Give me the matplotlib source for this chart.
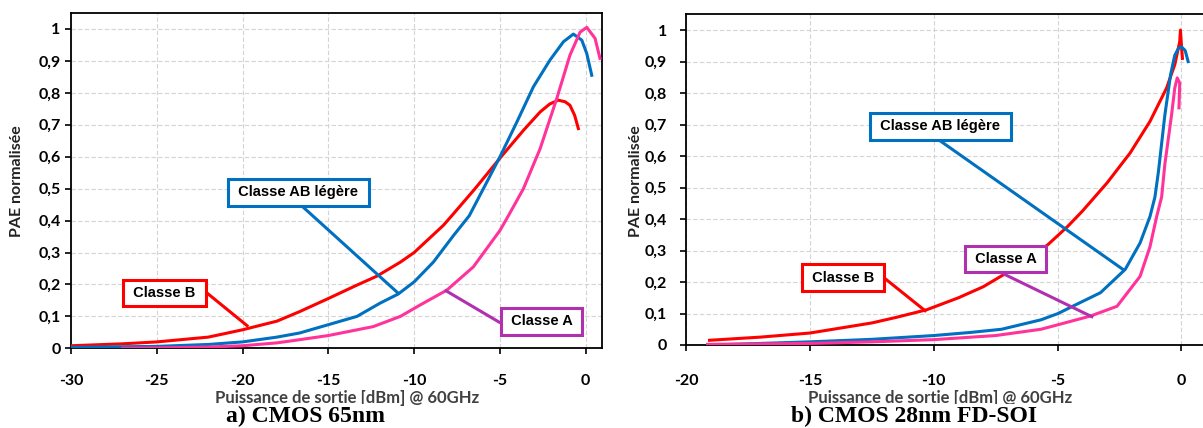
import matplotlib
matplotlib.use("Agg")
import matplotlib.pyplot as plt
from matplotlib.ticker import FuncFormatter, MultipleLocator

plt.rcParams['axes.unicode_minus'] = False

# --- a) CMOS 65nm ---
a_b_x = [-30, -27, -25, -22, -20, -18, -16.67, -15, -13.33, -12.17, -10.8, -10, -8.3, -7.81, -6.45, -4.96, -3.64, -2.66, -2.1, -1.6, -1.2, -0.92, -0.65, -0.43]
a_b_y = [0.008, 0.014, 0.02, 0.035, 0.058, 0.085, 0.115, 0.156, 0.198, 0.226, 0.27, 0.30, 0.385, 0.415, 0.50, 0.598, 0.682, 0.74, 0.765, 0.777, 0.772, 0.761, 0.73, 0.688]
a_ab_x = [-30, -25, -22, -20, -18, -16.67, -15, -13.33, -12, -10.93, -10, -8.88, -7.71, -6.79, -5.77, -4.96, -4.02, -3.05, -2.08, -1.3, -0.72, -0.23, 0.06, 0.35]
a_ab_y = [0.003, 0.006, 0.012, 0.02, 0.035, 0.048, 0.074, 0.10, 0.141, 0.17, 0.208, 0.27, 0.353, 0.415, 0.52, 0.604, 0.708, 0.819, 0.903, 0.96, 0.984, 0.965, 0.923, 0.855]
a_a_x = [-27, -24, -22, -20, -18, -16.67, -15, -12.38, -10.8, -9.64, -8.1, -6.55, -5, -4.51, -3.64, -2.66, -1.69, -0.92, -0.33, 0.06, 0.54, 0.83]
a_a_y = [0.0, 0.002, 0.004, 0.008, 0.017, 0.027, 0.04, 0.068, 0.1, 0.136, 0.182, 0.255, 0.369, 0.415, 0.499, 0.625, 0.782, 0.918, 0.99, 1.005, 0.971, 0.908]

# --- b) CMOS 28nm FD-SOI ---
b_b_x = [-19.05, -17, -15, -12.5, -11.5, -10.28, -9, -8, -7.08, -6, -5.4, -4.6, -4.0, -3.0, -2.07, -1.27, -0.6, -0.27, -0.07, -0.04, 0.0, 0.04]
b_b_y = [0.015, 0.025, 0.038, 0.07, 0.088, 0.112, 0.15, 0.185, 0.228, 0.285, 0.318, 0.376, 0.425, 0.515, 0.61, 0.71, 0.816, 0.89, 0.963, 1.0, 0.95, 0.91]
b_ab_x = [-18.2, -15, -12.5, -10, -8.5, -7.26, -5.67, -4.98, -4.34, -3.27, -2.27, -1.67, -1.27, -1.07, -0.93, -0.67, -0.44, -0.27, -0.12, 0.0, 0.15, 0.27]
b_ab_y = [0.002, 0.01, 0.018, 0.03, 0.04, 0.05, 0.08, 0.10, 0.125, 0.166, 0.24, 0.324, 0.408, 0.47, 0.55, 0.73, 0.858, 0.92, 0.942, 0.947, 0.935, 0.9]
b_a_x = [-19.13, -15, -12.5, -10, -7.5, -5.67, -5, -3.67, -2.6, -1.67, -1.27, -1.0, -0.8, -0.67, -0.4, -0.27, -0.17, -0.07, -0.1]
b_a_y = [0.002, 0.005, 0.01, 0.017, 0.03, 0.05, 0.064, 0.092, 0.123, 0.218, 0.312, 0.408, 0.47, 0.574, 0.73, 0.816, 0.848, 0.832, 0.753]

RED = '#FF0000'
BLUE = '#0070C0'
PINK = '#FF3399'
PURPLE = '#B030B0'

xlabel = 'Puissance de sortie [dBm] @ 60GHz'
ylabel = 'PAE normalisée'

W, H = 1203, 428


def fmt_comma(v, pos):
    s = ('%.1f' % v).replace('.', ',')
    if s.endswith(',0'):
        s = s[:-2]
    return s


def style_ax(ax, xmin, xmax, ymax, xpad, ypad):
    ax.set_xlim(xmin, xmax)
    ax.set_ylim(0, ymax)
    ax.xaxis.set_major_locator(MultipleLocator(5))
    ax.yaxis.set_major_locator(MultipleLocator(0.1))
    ax.yaxis.set_major_formatter(FuncFormatter(fmt_comma))
    ax.xaxis.set_major_formatter(FuncFormatter(lambda v, p: '%d' % round(v)))
    ax.grid(True, color='#D4D4D4', linestyle=(0, (4, 2)), linewidth=0.8)
    ax.set_axisbelow(True)
    for sp in ax.spines.values():
        sp.set_linewidth(1.3)
    ax.tick_params(axis='both', length=4.5, width=1.2)
    ax.tick_params(axis='x', pad=xpad)
    ax.tick_params(axis='y', pad=ypad)
    for lab in ax.get_xticklabels() + ax.get_yticklabels():
        lab.set_fontfamily('Lato')
        lab.set_fontweight('bold')
        lab.set_fontsize(11.5)


def callout(ax, text, center, tip, start, color):
    ax.plot([start[0], tip[0]], [start[1], tip[1]], color=color, lw=2.2, zorder=4)
    ax.text(center[0], center[1], ' ' + text + ' ', ha='center', va='center', fontsize=10.5,
            fontweight='bold', fontfamily='Liberation Sans', zorder=6,
            bbox=dict(boxstyle='square,pad=0.42', fc='white', ec=color, lw=2.2))


fig = plt.figure(figsize=(W / 100, H / 100), dpi=100)
ax1 = fig.add_axes([71 / W, 1 - 348.3 / H, (601.7 - 71) / W, (348.3 - 13) / H])
ax2 = fig.add_axes([686 / W, 1 - 345 / H, (W - 686) / W, (345 - 14) / H])

ax1.plot(a_b_x, a_b_y, color=RED, lw=2.2, zorder=3)
ax1.plot(a_ab_x, a_ab_y, color=BLUE, lw=2.2, zorder=3)
ax1.plot(a_a_x, a_a_y, color=PINK, lw=2.2, zorder=3)
style_ax(ax1, -30, 0.93, 1.05, 14, 3)
callout(ax1, 'Classe AB légère', (-16.74, 0.488), (-10.94, 0.173), (-16.49, 0.443), BLUE)
callout(ax1, 'Classe B', (-24.55, 0.172), (-19.74, 0.071), (-22.07, 0.173), RED)
callout(ax1, 'Classe A', (-2.58, 0.084), (-8.14, 0.18), (-5.05, 0.082), PURPLE)

ax2.plot(b_b_x, b_b_y, color=RED, lw=2.2, zorder=3)
ax2.plot(b_ab_x, b_ab_y, color=BLUE, lw=2.2, zorder=3)
ax2.plot(b_a_x, b_a_y, color=PINK, lw=2.2, zorder=3)
style_ax(ax2, -20, 0.87, 1.051, 16.5, 9)
ax2.spines['right'].set_visible(False)
callout(ax2, 'Classe AB légère', (-9.73, 0.694), (-2.36, 0.24), (-9.79, 0.651), BLUE)
callout(ax2, 'Classe B', (-13.66, 0.214), (-10.35, 0.109), (-12.0, 0.213), RED)
callout(ax2, 'Classe A', (-7.1, 0.272), (-3.62, 0.09), (-7.16, 0.225), PURPLE)

# axis titles
for xc in (347, 940.5):
    fig.text(xc / W, 1 - 397.5 / H, xlabel, ha='center', va='center',
             fontfamily='Lato', fontweight='bold', fontsize=12, color='#404040')
for xc in (17, 636):
    fig.text(xc / W, 1 - 181 / H, ylabel, ha='center', va='center', rotation=90,
             fontfamily='Lato', fontweight='bold', fontsize=11.5, color='#222222')

# panel captions
cap_box = dict(boxstyle='square,pad=0.08', fc='white', ec='none')
fig.text(306 / W, 1 - 416 / H, 'a) CMOS 65nm', ha='center', va='center',
         fontfamily='Liberation Serif', fontweight='bold', fontsize=17, bbox=cap_box)
fig.text(913.6 / W, 1 - 416 / H, 'b) CMOS 28nm FD-SOI', ha='center', va='center',
         fontfamily='Liberation Serif', fontweight='bold', fontsize=17, bbox=cap_box)

fig.savefig('out.png', dpi=100)
